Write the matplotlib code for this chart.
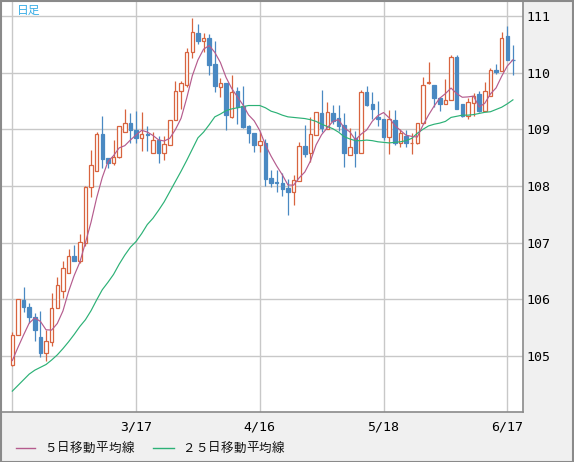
import matplotlib
matplotlib.use("Agg")
import matplotlib.pyplot as plt
from matplotlib.patches import Rectangle
from matplotlib.lines import Line2D
import pandas as pd

# ---------------- data ----------------
opens = [104.85, 105.37, 105.99, 105.86, 105.68, 105.34, 105.06, 105.25, 105.84, 106.15,
         106.47, 106.77, 106.68, 106.99, 107.98, 108.26, 108.92, 108.49, 108.40, 108.51,
         108.96, 109.12, 108.99, 108.84, 108.92, 108.58, 108.82, 108.59, 108.72, 109.16,
         109.67, 109.78, 110.36, 110.70, 110.55, 110.62, 110.15, 109.75, 109.82, 109.22,
         109.67, 109.41, 109.06, 108.94, 108.73, 108.75, 108.14, 108.07, 108.05, 107.96,
         107.89, 108.09, 108.71, 108.58, 108.90, 109.29, 109.01, 109.29, 109.20, 109.08,
         108.55, 108.85, 108.59, 109.65, 109.44, 109.22, 109.19, 108.86, 109.17, 108.75,
         108.89, 108.75, 108.75, 109.12, 109.82, 109.79, 109.55, 109.45, 109.52, 110.28,
         109.44, 109.24, 109.46, 109.62, 109.32, 109.59, 110.05, 110.03, 110.64, 110.23]
closes = [105.37, 106.00, 105.86, 105.68, 105.45, 105.06, 105.26, 105.84, 106.26, 106.55,
          106.77, 106.68, 107.01, 107.98, 108.37, 108.92, 108.48, 108.40, 108.51, 109.05,
          109.12, 108.98, 108.84, 108.92, 108.90, 108.82, 108.59, 108.74, 109.16, 109.67,
          109.81, 110.36, 110.72, 110.56, 110.62, 110.13, 109.76, 109.82, 109.25, 109.65,
          109.40, 109.04, 108.93, 108.73, 108.79, 108.13, 108.06, 108.06, 107.95, 107.89,
          108.11, 108.71, 108.57, 108.92, 109.31, 109.03, 109.30, 109.15, 109.06, 108.59,
          108.68, 108.59, 109.65, 109.43, 109.36, 109.18, 108.86, 109.18, 108.75, 108.94,
          108.75, 108.76, 109.12, 109.79, 109.84, 109.55, 109.45, 109.52, 110.28, 109.35,
          109.23, 109.48, 109.59, 109.32, 109.68, 110.05, 110.01, 110.62, 110.23, 110.22]
highs = [105.43, 106.01, 106.22, 105.93, 105.76, 105.80, 105.45, 106.11, 106.40, 106.68,
         106.88, 106.96, 107.15, 108.00, 108.64, 108.95, 109.24, 108.49, 108.81, 109.05,
         109.35, 109.28, 109.32, 109.31, 109.05, 108.95, 108.88, 108.88, 109.16, 109.86,
         109.86, 110.44, 110.96, 110.86, 110.70, 110.68, 110.55, 109.91, 109.82, 109.96,
         109.75, 109.77, 109.07, 108.94, 108.96, 108.83, 108.29, 108.29, 108.23, 108.13,
         108.19, 108.78, 109.07, 109.21, 109.31, 109.69, 109.48, 109.43, 109.43, 109.28,
         109.03, 108.97, 109.70, 109.77, 109.66, 109.50, 109.19, 109.34, 109.34, 109.00,
         108.98, 108.94, 109.12, 109.92, 110.19, 109.79, 109.57, 109.88, 110.32, 110.32,
         109.44, 109.56, 109.64, 109.68, 109.83, 110.09, 110.16, 110.72, 110.82, 110.49]
lows = [104.83, 105.37, 105.77, 105.59, 105.26, 104.98, 104.92, 105.18, 105.84, 106.02,
        106.47, 106.67, 106.64, 106.94, 107.81, 108.26, 108.31, 108.31, 108.37, 108.49,
        108.96, 108.76, 108.76, 108.62, 108.62, 108.58, 108.40, 108.45, 108.72, 109.16,
        109.36, 109.75, 110.26, 110.50, 110.37, 109.96, 109.65, 109.57, 108.99, 109.20,
        109.10, 109.03, 108.75, 108.60, 108.60, 108.00, 107.98, 107.89, 107.82, 107.49,
        107.67, 108.09, 108.52, 108.43, 108.90, 108.95, 109.00, 109.10, 108.97, 108.34,
        108.55, 108.34, 108.59, 109.42, 109.18, 109.06, 108.82, 108.57, 108.72, 108.69,
        108.69, 108.57, 108.74, 109.10, 109.80, 109.39, 109.32, 109.45, 109.52, 109.35,
        109.21, 109.18, 109.23, 109.31, 109.32, 109.58, 109.98, 110.03, 110.22, 109.95]
# first points of the 5-day average (earlier closes are not on the chart)
ma5_head = [104.92, 105.15, 105.37, 105.58]
ma25 = [104.38, 104.48, 104.58, 104.68, 104.75, 104.80, 104.85, 104.93, 105.02, 105.13,
        105.25, 105.38, 105.52, 105.64, 105.80, 105.99, 106.17, 106.30, 106.44, 106.62,
        106.78, 106.92, 107.02, 107.16, 107.32, 107.43, 107.57, 107.72, 107.90, 108.08,
        108.26, 108.45, 108.65, 108.85, 108.95, 109.08, 109.22, 109.27, 109.33, 109.36,
        109.38, 109.40, 109.42, 109.42, 109.42, 109.38, 109.32, 109.29, 109.25, 109.22,
        109.21, 109.20, 109.19, 109.17, 109.14, 109.09, 109.05, 109.01, 108.95, 108.87,
        108.83, 108.80, 108.80, 108.81, 108.80, 108.78, 108.77, 108.76, 108.77, 108.78,
        108.80, 108.84, 108.93, 109.00, 109.06, 109.09, 109.11, 109.14, 109.21, 109.23,
        109.25, 109.25, 109.26, 109.28, 109.30, 109.31, 109.35, 109.39, 109.45, 109.52]
tick_pos = [0, 22, 44, 66, 88]
tick_labels = ["", "3/17", "4/16", "5/18", "6/17"]
y_ticks = [105, 106, 107, 108, 109, 110, 111]
legend_labels = ["５日移動平均線", "２５日移動平均線"]
title_text = "日足"

# ---------------- styling ----------------
UP = "#d8643f"
DOWN = "#4a89c2"
C_MA5 = "#b55c8e"
C_MA25 = "#2cb176"
GRID = "#c8c8c8"
BORDER = "#8a8a8a"
BG = "#f0f0f0"
CJK = ["Noto Sans CJK JP", "DejaVu Sans"]

W, H = 574, 462
fig = plt.figure(figsize=(W / 100, H / 100), dpi=100, facecolor=BG)

# plot area in pixels: x 2..523, y 1..412
L, R, T, B = 2, 523, 1, 412
ax = fig.add_axes([L / W, (H - B) / H, (R - L) / W, (B - T) / H])
ax.set_facecolor("white")

n = len(opens)
xs = list(range(n))

px_per = 5.625
x0 = 12.3
ax.set_xlim((L - x0) / px_per, (R - x0) / px_per)
ppu = 56.67
ax.set_ylim(105 + (356 - B) / ppu, 105 + (356 - T) / ppu)

ax.set_xticks(tick_pos)
ax.set_xticklabels(tick_labels)
ax.set_yticks(y_ticks)
ax.set_yticklabels([str(v) for v in y_ticks])
ax.yaxis.tick_right()
ax.tick_params(axis="both", length=0, labelsize=9.5, colors="black")
ax.tick_params(axis="x", pad=6)
ax.tick_params(axis="y", pad=2.5)
for lab in ax.get_xticklabels() + ax.get_yticklabels():
    lab.set_family("DejaVu Sans Mono")

ax.grid(True, color=GRID, lw=1.0, zorder=0)
ax.set_axisbelow(True)
for s in ["top", "left"]:
    ax.spines[s].set_visible(False)
for s in ["right", "bottom"]:
    ax.spines[s].set_color(BORDER)
    ax.spines[s].set_linewidth(1.2)

# candles
bw = 0.62
for k in xs:
    o, h, l, c = opens[k], highs[k], lows[k], closes[k]
    up = c >= o
    col = UP if up else DOWN
    ax.vlines(k, l, h, color=col, lw=0.9, zorder=2)
    bottom = min(o, c)
    height = max(abs(c - o), 0.004)
    ax.add_patch(Rectangle((k - bw / 2, bottom), bw, height,
                           facecolor="white" if up else DOWN,
                           edgecolor=col, lw=0.9, zorder=3))

# moving averages
s = pd.Series(closes)
ma5 = s.rolling(5).mean()
ma5.iloc[:len(ma5_head)] = ma5_head
ax.plot(xs, ma25, color=C_MA25, lw=0.85, zorder=4)
ax.plot(xs, ma5.values, color=C_MA5, lw=0.85, zorder=4)

# title inside plot
fig.text(17 / W, 1 - 10.5 / H, title_text, color="#3aaee6", fontsize=8.5,
         family=CJK, va="center", ha="left")


def spaced_text(x_px, y_px, text, pitch, **kw):
    for i, ch in enumerate(text):
        fig.text((x_px + pitch * (i + 0.5)) / W, 1 - y_px / H, ch,
                 ha="center", va="center", **kw)


# legend (manual)
ly_px = 448
ly = 1 - ly_px / H
fig.add_artist(Line2D([16 / W, 35 / W], [ly, ly], color=C_MA5, lw=1.0))
spaced_text(44, ly_px, legend_labels[0], 12.9, fontsize=9, family=CJK, color="#111111")
fig.add_artist(Line2D([153 / W, 174 / W], [ly, ly], color=C_MA25, lw=1.0))
spaced_text(182, ly_px, legend_labels[1], 12.8, fontsize=9, family=CJK, color="#111111")

# outer border
fig.add_artist(Rectangle((0.5 / W, 0.5 / H), (W - 1.5) / W, (H - 1.5) / H,
                         transform=fig.transFigure, fill=False,
                         edgecolor=BORDER, lw=1.5))

fig.savefig("out.png", dpi=100, facecolor=BG)
